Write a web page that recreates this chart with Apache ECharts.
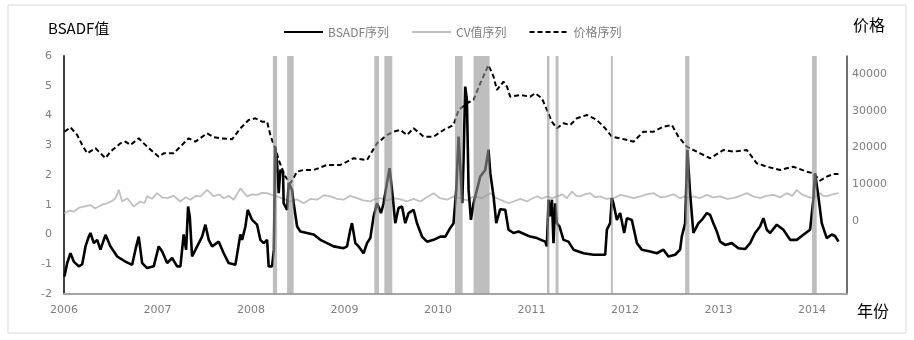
<!DOCTYPE html>
<html>
<head>
<meta charset="utf-8">
<script src="https://cdn.jsdelivr.net/npm/echarts@6/dist/echarts.min.js"></script>
<style>
  html, body { margin: 0; padding: 0; background: #fff; }
  #chart { width: 914px; height: 340px; }
</style>
</head>
<body>
<div id="chart"></div>
<script>
// Year ticks on the horizontal axis
const yearTicks = [2006, 2007, 2008, 2009, 2010, 2011, 2012, 2013, 2014];

// BSADF statistic: [decimal year, value]
const bsadf = [
  [2006.005,-1.41],[2006.034,-0.96],[2006.069,-0.63],[2006.105,-0.91],[2006.158,-1.07],[2006.195,-1.00],
  [2006.230,-0.40],[2006.265,-0.07],[2006.283,0.05],[2006.319,-0.29],[2006.355,-0.18],[2006.390,-0.51],
  [2006.444,-0.01],[2006.497,-0.40],[2006.569,-0.74],[2006.657,-0.91],[2006.729,-1.02],[2006.764,-0.51],
  [2006.799,-0.07],[2006.836,-0.96],[2006.889,-1.13],[2006.960,-1.07],[2007.013,-0.40],[2007.050,-0.57],
  [2007.103,-0.96],[2007.156,-0.79],[2007.210,-1.07],[2007.245,-1.07],[2007.280,0.00],[2007.306,-0.51],
  [2007.327,0.94],[2007.345,0.61],[2007.370,-0.74],[2007.424,-0.40],[2007.477,-0.07],[2007.512,0.33],
  [2007.548,-0.18],[2007.584,-0.40],[2007.655,-0.24],[2007.708,-0.63],[2007.761,-0.96],[2007.833,-1.02],
  [2007.886,0.00],[2007.905,-0.18],[2007.940,0.27],[2007.965,0.83],[2008.012,0.49],[2008.065,0.33],
  [2008.100,-0.18],[2008.136,-0.29],[2008.172,-0.18],[2008.189,-1.07],[2008.225,-1.07],[2008.245,-0.50],
  [2008.258,2.96],[2008.279,2.40],[2008.296,1.39],[2008.314,2.17],[2008.343,2.06],[2008.349,1.05],
  [2008.386,0.83],[2008.403,1.73],[2008.439,1.50],[2008.456,1.05],[2008.493,0.27],[2008.528,0.10],
  [2008.599,0.05],[2008.670,0.00],[2008.742,-0.18],[2008.813,-0.29],[2008.884,-0.40],[2008.991,-0.46],
  [2009.027,-0.40],[2009.062,0.16],[2009.080,0.38],[2009.116,-0.29],[2009.151,-0.40],[2009.204,-0.63],
  [2009.241,-0.29],[2009.276,-0.12],[2009.311,0.61],[2009.348,1.05],[2009.390,0.72],[2009.418,1.05],
  [2009.454,1.73],[2009.482,2.23],[2009.508,1.50],[2009.543,0.38],[2009.578,0.89],[2009.615,0.94],
  [2009.650,0.38],[2009.685,0.72],[2009.739,0.83],[2009.775,0.38],[2009.829,-0.07],[2009.882,-0.24],
  [2009.953,-0.18],[2010.024,-0.07],[2010.078,-0.07],[2010.131,0.22],[2010.166,0.38],[2010.195,1.50],
  [2010.220,3.29],[2010.238,2.29],[2010.259,1.05],[2010.273,2.51],[2010.291,4.97],[2010.309,4.53],
  [2010.327,1.50],[2010.352,0.49],[2010.380,1.05],[2010.416,1.50],[2010.452,1.95],[2010.505,2.17],
  [2010.540,2.85],[2010.559,2.06],[2010.594,1.28],[2010.623,0.38],[2010.665,0.85],[2010.719,0.83],
  [2010.754,0.16],[2010.808,0.05],[2010.861,0.10],[2010.933,0.00],[2010.986,-0.07],[2011.058,-0.12],
  [2011.146,-0.24],[2011.164,-0.40],[2011.182,1.17],[2011.200,0.61],[2011.218,1.17],[2011.235,-0.29],
  [2011.253,1.05],[2011.271,0.38],[2011.299,0.27],[2011.342,-0.18],[2011.395,-0.24],[2011.449,-0.51],
  [2011.556,-0.63],[2011.663,-0.68],[2011.788,-0.68],[2011.806,0.16],[2011.841,0.38],[2011.859,1.22],
  [2011.876,1.05],[2011.913,0.49],[2011.948,0.72],[2011.991,0.05],[2012.020,0.55],[2012.073,0.49],
  [2012.127,-0.29],[2012.180,-0.51],[2012.269,-0.57],[2012.340,-0.63],[2012.411,-0.51],[2012.464,-0.74],
  [2012.536,-0.68],[2012.589,-0.51],[2012.607,-0.07],[2012.643,0.38],[2012.667,2.85],[2012.696,1.39],
  [2012.731,0.05],[2012.785,0.38],[2012.821,0.49],[2012.875,0.72],[2012.910,0.66],[2012.945,0.38],
  [2012.982,0.10],[2013.017,-0.24],[2013.070,-0.35],[2013.142,-0.29],[2013.212,-0.46],[2013.284,-0.49],
  [2013.338,-0.29],[2013.391,0.05],[2013.444,0.27],[2013.480,0.55],[2013.516,0.16],[2013.552,0.05],
  [2013.623,0.33],[2013.694,0.16],[2013.766,-0.18],[2013.837,-0.18],[2013.907,-0.01],[2013.979,0.16],
  [2014.014,1.17],[2014.032,2.06],[2014.068,1.28],[2014.104,0.38],[2014.157,-0.12],[2014.211,0.00],
  [2014.246,-0.05],[2014.283,-0.24]
];

// CV series: [decimal year, value]
const cv = [
  [2006.005,0.72],[2006.060,0.80],[2006.105,0.77],[2006.160,0.90],[2006.212,0.94],[2006.283,0.99],
  [2006.330,0.88],[2006.372,0.94],[2006.420,1.02],[2006.462,1.05],[2006.510,1.12],[2006.550,1.22],
  [2006.586,1.50],[2006.622,1.11],[2006.676,1.22],[2006.746,0.94],[2006.818,1.11],[2006.860,1.05],
  [2006.889,1.28],[2006.940,1.20],[2006.996,1.39],[2007.050,1.25],[2007.103,1.22],[2007.170,1.30],
  [2007.245,1.11],[2007.300,1.25],[2007.352,1.17],[2007.410,1.30],[2007.459,1.28],[2007.531,1.50],
  [2007.601,1.28],[2007.660,1.35],[2007.708,1.22],[2007.760,1.30],[2007.815,1.17],[2007.887,1.55],
  [2007.958,1.28],[2008.010,1.35],[2008.065,1.33],[2008.120,1.40],[2008.172,1.39],[2008.225,1.33],
  [2008.279,1.28],[2008.350,1.20],[2008.421,1.11],[2008.490,1.18],[2008.563,1.05],[2008.640,1.20],
  [2008.706,1.17],[2008.780,1.32],[2008.848,1.28],[2008.920,1.20],[2008.991,1.17],[2009.060,1.30],
  [2009.134,1.22],[2009.200,1.15],[2009.276,1.11],[2009.330,1.20],[2009.383,1.22],[2009.455,1.15],
  [2009.525,1.22],[2009.600,1.18],[2009.668,1.11],[2009.740,1.20],[2009.810,1.11],[2009.880,1.25],
  [2009.953,1.39],[2010.020,1.22],[2010.096,1.17],[2010.170,1.28],[2010.238,1.22],[2010.310,1.15],
  [2010.380,1.28],[2010.470,1.22],[2010.559,1.39],[2010.610,1.25],[2010.665,1.17],[2010.754,1.05],
  [2010.808,1.11],[2010.880,1.20],[2010.951,1.11],[2011.000,1.20],[2011.058,1.28],[2011.110,1.20],
  [2011.165,1.28],[2011.220,1.22],[2011.271,1.28],[2011.330,1.35],[2011.378,1.22],[2011.432,1.44],
  [2011.480,1.30],[2011.520,1.28],[2011.570,1.35],[2011.627,1.39],[2011.680,1.25],[2011.734,1.28],
  [2011.800,1.20],[2011.876,1.22],[2011.950,1.33],[2012.020,1.28],[2012.090,1.22],[2012.162,1.28],
  [2012.230,1.35],[2012.304,1.39],[2012.380,1.25],[2012.447,1.28],[2012.520,1.35],[2012.589,1.22],
  [2012.640,1.28],[2012.696,1.22],[2012.731,1.28],[2012.800,1.22],[2012.875,1.33],[2012.940,1.25],
  [2013.017,1.28],[2013.090,1.20],[2013.159,1.22],[2013.230,1.30],[2013.302,1.39],[2013.370,1.28],
  [2013.444,1.22],[2013.510,1.30],[2013.587,1.33],[2013.660,1.25],[2013.730,1.39],[2013.790,1.30],
  [2013.837,1.50],[2013.890,1.35],[2013.944,1.28],[2014.014,1.22],[2014.050,1.30],[2014.086,1.39],
  [2014.120,1.30],[2014.157,1.28],[2014.220,1.35],[2014.283,1.39]
];

// Price series: [decimal year, price]
const price = [
  [2006.005,24330],[2006.069,25530],[2006.141,23430],[2006.195,20700],[2006.248,18430],[2006.337,19800],
  [2006.390,18430],[2006.444,17070],[2006.497,18870],[2006.604,21160],[2006.657,21600],[2006.711,20700],
  [2006.799,22530],[2006.889,20230],[2007.013,17500],[2007.067,18430],[2007.174,18430],[2007.280,21160],
  [2007.334,22530],[2007.405,21600],[2007.531,23890],[2007.601,22800],[2007.673,22530],[2007.798,22260],
  [2007.887,25260],[2007.975,27530],[2008.047,27990],[2008.118,27060],[2008.172,27060],[2008.207,23430],
  [2008.242,20700],[2008.261,19800],[2008.296,16600],[2008.367,12040],[2008.421,10240],[2008.493,13410],
  [2008.563,13870],[2008.670,13870],[2008.813,15240],[2008.955,15240],[2009.097,17070],[2009.241,16600],
  [2009.348,21160],[2009.454,23430],[2009.525,24330],[2009.597,24800],[2009.668,23430],[2009.739,25260],
  [2009.846,22970],[2009.953,22970],[2010.059,24800],[2010.166,26160],[2010.220,30260],[2010.309,32090],
  [2010.380,32990],[2010.452,37550],[2010.540,42540],[2010.594,39350],[2010.630,35720],[2010.701,37990],
  [2010.737,36620],[2010.772,33890],[2010.879,34350],[2010.986,33890],[2011.040,34820],[2011.111,33450],
  [2011.165,30260],[2011.218,27060],[2011.271,25260],[2011.342,26620],[2011.414,26160],[2011.485,27990],
  [2011.592,28890],[2011.699,27530],[2011.788,25260],[2011.859,22970],[2011.948,22530],[2012.090,21600],
  [2012.197,24330],[2012.304,24330],[2012.411,25700],[2012.501,26160],[2012.571,22970],[2012.661,20230],
  [2012.731,19330],[2012.803,18430],[2012.910,17070],[2013.052,19330],[2013.159,18870],[2013.302,19330],
  [2013.409,15700],[2013.516,14770],[2013.658,13870],[2013.800,14770],[2013.944,13410],[2014.014,12970],
  [2014.086,10950],[2014.157,12040],[2014.228,12780],[2014.283,12780]
];

// Shaded bubble periods: [start, end] in decimal years
const bubblePeriods = [
  [2008.234,2008.279],[2008.386,2008.456],[2009.319,2009.369],[2009.426,2009.511],
  [2010.181,2010.263],[2010.380,2010.551],[2011.165,2011.192],[2011.257,2011.289],
  [2011.849,2011.870],[2012.643,2012.689],[2014.000,2014.050]
];

const leftTicks = { min: -2, max: 6, interval: 1 };
const rightTicks = { min: -20000, max: 45000, interval: 10000, shownMax: 40000 };

const numFont = 'DejaVu Sans';
const cjkFont = '"Noto Sans CJK SC", "Noto Sans", sans-serif';

const chart = echarts.init(document.getElementById('chart'), null, { renderer: 'canvas' });

chart.setOption({
  animation: false,
  backgroundColor: '#ffffff',
  grid: { left: 64, right: 67, top: 56, bottom: 46, containLabel: false },
  legend: {
    data: ['BSADF序列', 'CV值序列', '价格序列'],
    left: 278,
    top: 21,
    itemWidth: 39,
    itemHeight: 10,
    itemGap: 22,
    itemStyle: { opacity: 0, borderWidth: 0 },
    textStyle: { fontFamily: cjkFont, fontSize: 12, color: '#7f7f7f' }
  },
  xAxis: {
    type: 'value',
    min: yearTicks[0],
    max: 2014.374,
    interval: 1,
    axisLine: { show: true, onZero: false, lineStyle: { color: '#a6a6a6', width: 2 } },
    axisTick: { show: false },
    splitLine: { show: false },
    axisLabel: {
      margin: 11,
      showMaxLabel: false,
      fontFamily: numFont,
      fontSize: 11,
      color: '#7f7f7f',
      formatter: v => (yearTicks.indexOf(v) >= 0 ? String(v) : '')
    }
  },
  yAxis: [
    {
      type: 'value',
      position: 'left',
      min: leftTicks.min,
      max: leftTicks.max,
      interval: leftTicks.interval,
      axisLine: { show: true, lineStyle: { color: '#404040', width: 2 } },
      axisTick: { show: false },
      splitLine: { show: false },
      axisLabel: { margin: 12, fontFamily: numFont, fontSize: 11, color: '#7f7f7f' }
    },
    {
      type: 'value',
      position: 'right',
      min: rightTicks.min,
      max: rightTicks.max,
      interval: rightTicks.interval,
      alignTicks: false,
      axisLine: { show: true, lineStyle: { color: '#404040', width: 1.5 } },
      axisTick: { show: false },
      splitLine: { show: false },
      axisLabel: {
        margin: 5,
        fontFamily: numFont,
        fontSize: 11,
        color: '#7f7f7f',
        showMaxLabel: false,
        formatter: v => (v >= 0 && v <= rightTicks.shownMax ? String(v) : '')
      }
    }
  ],
  series: [
    {
      name: 'CV值序列',
      type: 'line',
      yAxisIndex: 0,
      data: cv,
      symbol: 'none',
      z: 2,
      lineStyle: { color: '#c0c0c0', width: 1.8 },
      itemStyle: { color: '#c0c0c0' }
    },
    {
      name: '价格序列',
      type: 'line',
      yAxisIndex: 1,
      data: price,
      symbol: 'none',
      z: 3,
      lineStyle: { color: '#000000', width: 2, type: [5, 3] },
      itemStyle: { color: '#000000' }
    },
    {
      name: 'BSADF序列',
      type: 'line',
      yAxisIndex: 0,
      data: bsadf,
      symbol: 'none',
      z: 4,
      lineStyle: { color: '#000000', width: 2.6 },
      itemStyle: { color: '#000000' }
    },
    {
      name: 'bubbles',
      type: 'custom',
      yAxisIndex: 0,
      z: 10,
      silent: true,
      data: bubblePeriods,
      renderItem: function (params, api) {
        const p0 = api.coord([api.value(0), leftTicks.max]);
        const p1 = api.coord([api.value(1), leftTicks.min]);
        return {
          type: 'rect',
          shape: { x: p0[0], y: p0[1], width: Math.max(p1[0] - p0[0], 1.5), height: p1[1] - p0[1] },
          style: { fill: 'rgba(150,150,150,0.62)' }
        };
      }
    }
  ],
  graphic: [
    {
      type: 'rect',
      shape: { x: 8, y: 5, width: 898, height: 328 },
      style: { fill: 'none', stroke: '#d9d9d9', lineWidth: 1 },
      silent: true
    },
    {
      type: 'text', left: 48, top: 21,
      style: { text: 'BSADF值', fontFamily: cjkFont, fontSize: 15, fill: '#000000' }
    },
    {
      type: 'text', left: 853, top: 17,
      style: { text: '价格', fontFamily: cjkFont, fontSize: 16, fill: '#000000' }
    },
    {
      type: 'text', left: 857, top: 303,
      style: { text: '年份', fontFamily: cjkFont, fontSize: 16, fill: '#000000' }
    }
  ]
});
</script>
</body>
</html>
